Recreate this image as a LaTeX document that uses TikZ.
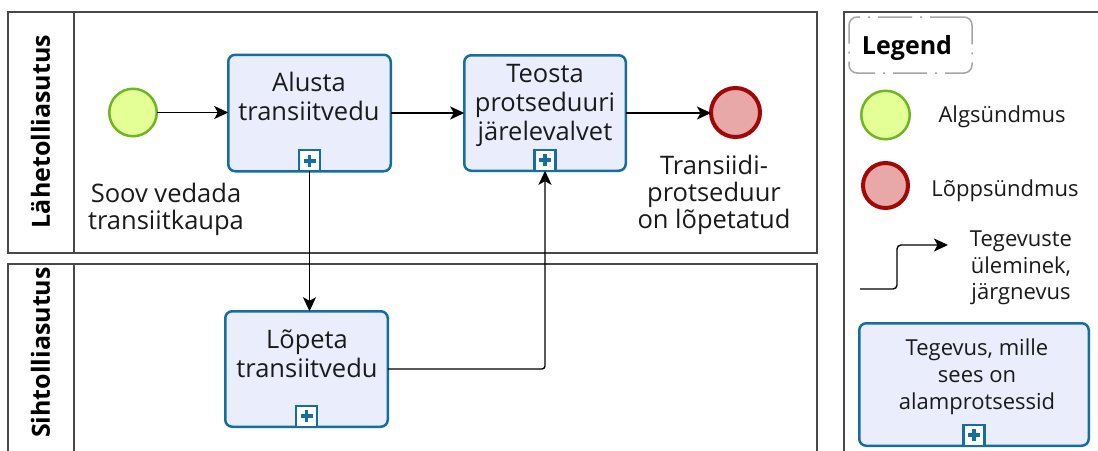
\documentclass[tikz,border=0pt]{standalone}
\usepackage{fontspec}
\setmainfont{Open Sans}
\usetikzlibrary{arrows.meta}

\definecolor{taskfill}{RGB}{234,238,252}
\definecolor{taskline}{RGB}{22,110,160}
\definecolor{startfill}{RGB}{228,255,150}
\definecolor{startline}{RGB}{112,182,34}
\definecolor{endfill}{RGB}{232,168,168}
\definecolor{endline}{RGB}{160,8,8}
\definecolor{poolline}{RGB}{72,72,72}
\definecolor{legendframe}{RGB}{165,165,165}
\definecolor{txt}{RGB}{26,26,26}

\tikzset{
  pool/.style={draw=poolline, line width=1.4pt},
  lanetitle/.style={rotate=90, inner sep=0pt, text=black,
    font=\fontsize{25}{30}\selectfont\bfseries},
  taskbox/.style={draw=taskline, fill=taskfill, line width=2.5pt,
    rounded corners=7pt, inner sep=0pt, outer sep=0pt},
  tasktext/.style={inner sep=0pt, align=center, text=txt,
    font=\fontsize{25.5}{29}\selectfont},
  evlabel/.style={inner sep=0pt, align=center, text=txt,
    font=\fontsize{25.5}{27}\selectfont},
  legtext/.style={inner sep=0pt, align=center, text=txt,
    font=\fontsize{22}{26.5}\selectfont},
  startev/.style={circle, draw=startline, fill=startfill, line width=2.5pt,
    inner sep=0pt, outer sep=0pt},
  endev/.style={circle, draw=endline, fill=endfill, line width=4pt,
    inner sep=0pt, outer sep=0pt},
  submarker/.style={draw=taskline, fill=white, line width=2.2pt,
    minimum size=21pt, inner sep=0pt, outer sep=0pt, anchor=south,
    path picture={
      \draw[taskline, line width=3.8pt]
        ([xshift=-6pt]path picture bounding box.center) --
        ([xshift=6pt]path picture bounding box.center);
      \draw[taskline, line width=3.8pt]
        ([yshift=-6pt]path picture bounding box.center) --
        ([yshift=6pt]path picture bounding box.center);
    }},
  flow/.style={draw=black, line width=1.4pt,
    -{Stealth[length=14pt, width=13pt, inset=3.5pt]}},
}

\begin{document}
\begin{tikzpicture}[x=1pt, y=-1pt]
\useasboundingbox (0,0) rectangle (1098,450);
\clip (0,0) rectangle (1098,450);
\fill[white] (0,0) rectangle (1098,450);

% pools with their title columns
\draw[pool] (8,12) rectangle (817,253);
\draw[pool] (74,12) -- (74,253);
\draw[pool] (8,470) -- (8,264) -- (817,264) -- (817,470);
\draw[pool] (74,264) -- (74,470);
\node[lanetitle] (lane1) at (40.5,131.5) {Lähetolliasutus};
\node[lanetitle, anchor=east] (lane2) at (40.5,267) {Sihtolliasutus};

% legend frame
\draw[pool] (844,470) -- (844,12) -- (1110,12);

% events
\node[startev, minimum size=47.5pt] (start) at (133,112.5) {};
\node[endev, minimum size=49pt] (finish) at (735.5,112.5) {};
\node[evlabel] (startlbl) at (166,208.9) {Soov vedada\\transiitkaupa};
\node[evlabel] (finishlbl) at (714,194.4) {Transiidi-\\protseduur\\on lõpetatud};

% tasks
\node[taskbox, minimum width=162.5pt, minimum height=116.5pt] (t1) at (309.5,113) {};
\node[taskbox, minimum width=161.5pt, minimum height=115.5pt] (t2) at (545,113) {};
\node[taskbox, minimum width=162.5pt, minimum height=115.5pt] (t3) at (306.5,369) {};
\node[tasktext] (t1txt) at (309,96.8) {Alusta\\transiitvedu};
\node[tasktext] (t2txt) at (545,105.4) {Teosta\\protseduuri\\järelevalvet};
\node[tasktext] (t3txt) at (307,354) {Lõpeta\\transiitvedu};
\node[submarker] (m1) at (t1.south) {};
\node[submarker] (m2) at (t2.south) {};
\node[submarker] (m3) at (t3.south) {};

% sequence flows
\draw[flow] (start.east) -- (start.east -| t1.west);
\draw[flow] (t1.east) -- (t1.east -| t2.west);
\draw[flow] (t2.east) -- (t2.east -| finish.west);
\draw[flow] (m1.south) -- (m1.south |- t3.north);
\draw[flow, rounded corners=3pt] (t3.east) -| (m2.south);

% legend
\node[draw=legendframe, line width=1.5pt, rounded corners=8pt,
  dash pattern=on 34pt off 8pt on 2pt off 8pt,
  minimum width=123pt, minimum height=56pt, inner sep=0pt] (legtitle) at (910.5,45) {};
\node[inner sep=0pt, font=\fontsize{25}{30}\selectfont\bfseries, text=black]
  (legtitletxt) at (907,48.5) {Legend};

\node[startev, minimum size=48.5pt] (legstart) at (885.5,115) {};
\node[legtext] (legstarttxt) at (1002,117) {Algsündmus};
\node[endev, minimum size=45pt] (legend) at (885.5,185.5) {};
\node[legtext] (legendtxt) at (1005,191) {Lõppsündmus};

\coordinate (legflowA) at (860,289);
\coordinate (legflowB) at (948,245);
\draw[flow, rounded corners=4pt] (legflowA) -- (897,289) -- (897,245) -- (legflowB);
\node[legtext] (legflowtxt) at (1021,267.8) {Tegevuste\\üleminek,\\järgnevus};

\node[taskbox, minimum width=229.5pt, minimum height=122.5pt] (legtask) at (974,384.5) {};
\node[legtext, font=\fontsize{22}{27}\selectfont] (legtasktxt) at (977,376.3)
  {Tegevus, mille\\sees on\\alamprotsessid};
\node[submarker] (legmark) at (legtask.south) {};
\end{tikzpicture}
\end{document}
